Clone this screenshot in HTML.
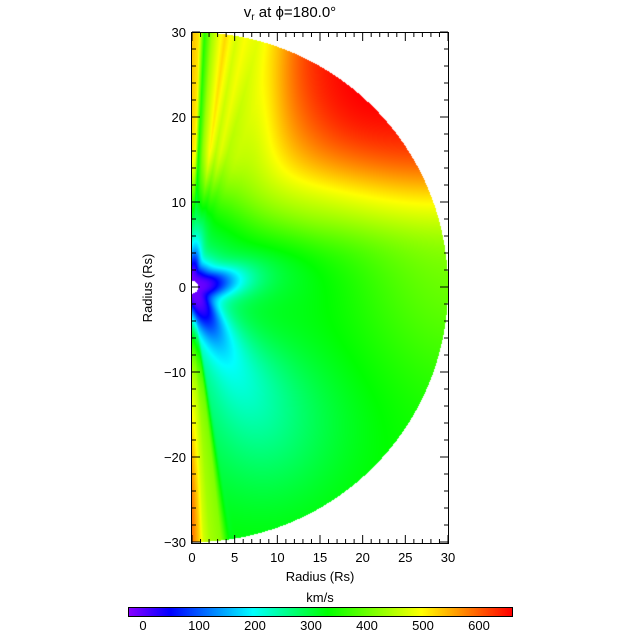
<!DOCTYPE html>
<html><head><meta charset="utf-8"><style>
html,body{margin:0;padding:0;background:#fff;width:640px;height:640px;overflow:hidden}
#c{position:absolute;left:192px;top:33px}
#cb{position:absolute;left:128px;top:607px}
svg{position:absolute;left:0;top:0}
text{font-family:"Liberation Sans",sans-serif;font-size:13px;fill:#000}
</style></head><body>
<canvas id="c" width="256" height="510"></canvas>
<canvas id="cb" width="384" height="9"></canvas>
<svg width="640" height="640" id="s"></svg>
<script>
var stops=[[0,[138,0,255]],[0.11,[0,0,255]],[0.325,[0,255,255]],[0.52,[0,255,0]],[0.765,[255,255,0]],[1,[255,0,0]]];
function cmap(t){t=Math.max(0,Math.min(1,t));for(var i=1;i<stops.length;i++){if(t<=stops[i][0]){var a=stops[i-1],b=stops[i],f=(t-a[0])/(b[0]-a[0]);return [0,1,2].map(function(k){return Math.round(a[1][k]+(b[1][k]-a[1][k])*f)});}}return stops[stops.length-1][1];}
function sig(z){return 1/(1+Math.exp(-z));}
function ss(a,b,x){var t=Math.max(0,Math.min(1,(x-a)/(b-a)));return t*t*(3-2*t);}
function g(x,m,s){var z=(x-m)/s;return Math.exp(-z*z);}
function mix(a,b,w){return a*(1-w)+b*w;}
function interp(tab,x){if(x<=tab[0][0])return tab[0][1];for(var i=1;i<tab.length;i++){if(x<=tab[i][0]){var f=(x-tab[i-1][0])/(tab[i][0]-tab[i-1][0]);return tab[i-1][1]+(tab[i][1]-tab[i-1][1])*f;}}return tab[tab.length-1][1];}
var ntab=[[0,540],[1.5,520],[2.8,350],[4.5,440],[7.5,530],[10,470],[12,500],[15,460],[19,480],[25,470]];
function val(x,y){
 var r=Math.sqrt(x*x+y*y),lat=Math.atan2(y,x)*180/Math.PI;
 var v=330+70*ss(12,30,r)*g(lat,5,28);
 v-=90*g(lat,-62,28)*(1-ss(12,34,r));
 var xb=7+0.15*(y-12), yb=9.5+0.08*(x-8);
 var F=sig((y-yb)/2.2)*sig((x-xb)/1.8);
 var fastV=490+150*ss(8,32,r)+25*g(lat,48,14)*ss(15,28,r);
 var colat=90-lat;
 var N=sig((y-7)/2)*ss(5,17,r);
 v=mix(v,interp(ntab,colat),N*(1-F));
 v=mix(v,fastV,F);
 var sc=lat+90;
 var S=sig((-y-6)/2);
 var stab=[[0,480+110*ss(8,28,-y)],[1.6,470+60*ss(8,28,-y)],[2.6,470],[4,440],[6.5,420],[9,300]];
 var sv=interp(stab,sc);
 v=mix(v,sv,S*(1-ss(7,10,sc)));
 var arm=g(lat,-65,18)+0.7*g(lat,10,22)+0.6*g(lat,85,10);
 var L=2.2+3*arm;
 var w=1/(1+Math.pow(Math.max(0,r-0.7)/L,2.5));
 v=mix(v,-10,w);
 return v;
}
var c=document.getElementById('c'),ctx=c.getContext('2d'),im=ctx.createImageData(256,510),d=im.data;
for(var py=0;py<510;py++)for(var px=0;px<256;px++){
 var x=(px+0.5)/8.533,y=29.9-(py+0.5)/8.5,r=Math.sqrt(x*x+y*y),i=(py*256+px)*4;
 if(r>30||r<0.75){d[i]=d[i+1]=d[i+2]=255;d[i+3]=255;continue;}
 var col=cmap((val(x,y)+27)/686);d[i]=col[0];d[i+1]=col[1];d[i+2]=col[2];d[i+3]=255;}
ctx.putImageData(im,0,0);
var cb=document.getElementById('cb'),cx=cb.getContext('2d');
for(var k=0;k<384;k++){var col=cmap(k/383);cx.fillStyle='rgb('+col+')';cx.fillRect(k,0,1,9);}
var s='';
function ln(a,b,c2,d2){s+='<line x1="'+a+'" y1="'+b+'" x2="'+c2+'" y2="'+d2+'" stroke="#000" stroke-width="1"/>';}
function tx(x,y,t,a){s+='<text x="'+x+'" y="'+y+'" text-anchor="'+(a||'middle')+'">'+t+'</text>';}
s+='<rect x="191.5" y="32.5" width="257" height="511" fill="none" stroke="#000"/>';
for(var u=0;u<=30;u++){var X=192+u*8.533,len=(u%5==0)?8:4;ln(X,33,X,33+len);ln(X,543,X,543-len);}
for(var u=-30;u<=30;u+=2){var Y=287-u*8.5,len=(u%10==0)?8:4;ln(192,Y,192+len,Y);ln(448,Y,448-len,Y);}
for(var u=0;u<=30;u+=5)tx(192+u*8.533,562,u);
for(var u=-30;u<=30;u+=10)tx(186,287-u*8.5+5,u<0?'\u2212'+(-u):u,'end');
tx(320,581,'Radius (Rs)');
s+='<text x="152" y="288" text-anchor="middle" transform="rotate(-90 152 288)">Radius (Rs)</text>';
s+='<text x="290" y="17" text-anchor="middle" style="font-size:15px">v<tspan font-size="10" dy="3">r</tspan><tspan dy="-3"> at \u03D5=180.0\u00B0</tspan></text>';
tx(320,602,'km/s');
s+='<rect x="128.5" y="607.5" width="384" height="9" fill="none" stroke="#000"/>';
for(var u=0;u<=600;u+=100)tx(143+u*0.56,630,u);
document.getElementById('s').innerHTML=s;
</script>
</body></html>
